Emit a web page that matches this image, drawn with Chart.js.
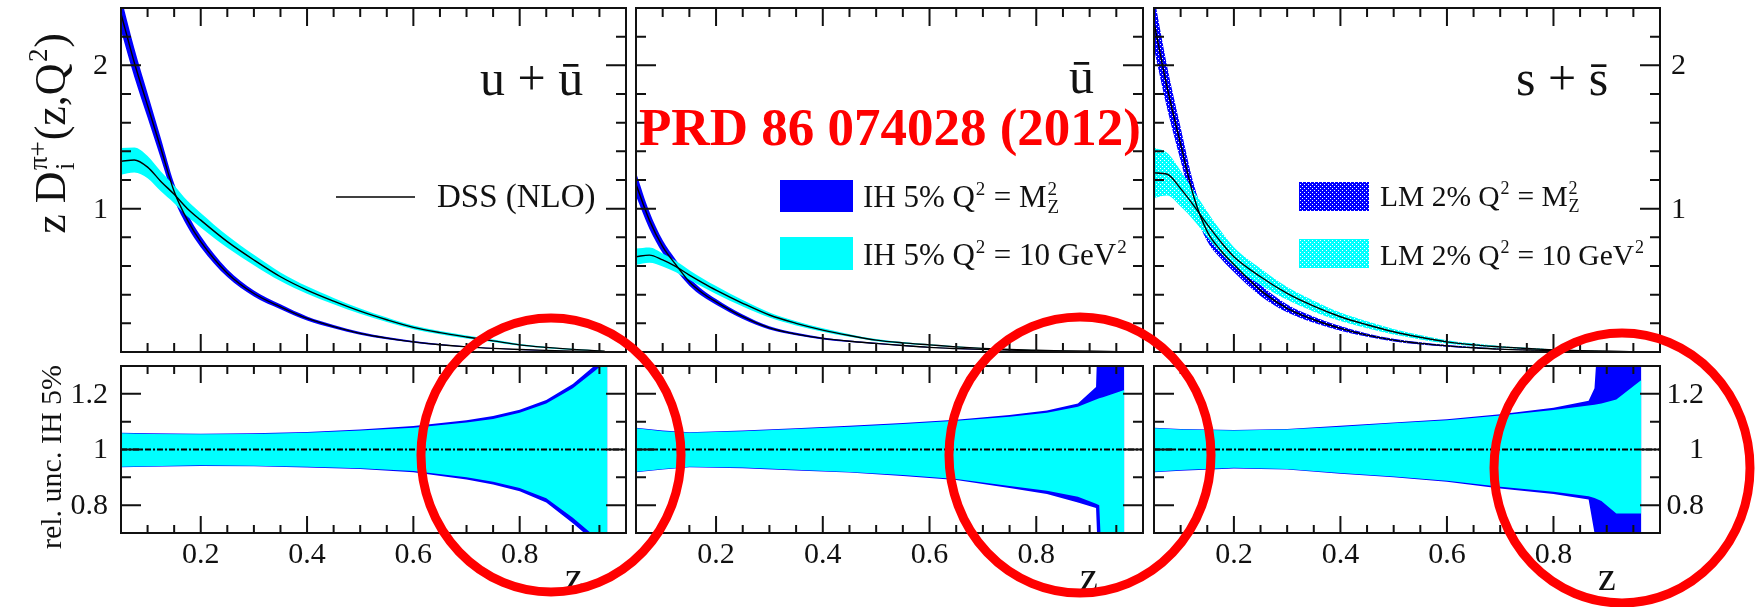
<!DOCTYPE html>
<html>
<head>
<meta charset="utf-8">
<script src="https://cdn.jsdelivr.net/npm/chart.js@4.4.1/dist/chart.umd.min.js"></script>
<style>
  html, body { margin: 0; padding: 0; background: #fff; }
  #wrap { position: relative; width: 1764px; height: 607px; overflow: hidden; background: #fff; }
  #wrap canvas { position: absolute; left: 0; top: 0; }
</style>
</head>
<body>
<div id="wrap"></div>
<script>
// ---------------------------------------------------------------------------
// Pion fragmentation functions z*D_i^{pi+}(z,Q^2) for i = u+ubar, ubar, s+sbar
// at Q^2 = M_Z^2 and Q^2 = 10 GeV^2, plus relative uncertainty bands.
// ---------------------------------------------------------------------------

// z nodes of the fragmentation-function curves
const zTop = [0.05, 0.075, 0.1, 0.125, 0.15, 0.175, 0.2, 0.25, 0.3, 0.35, 0.4, 0.45,
              0.5, 0.55, 0.6, 0.65, 0.7, 0.75, 0.8, 0.85, 0.9, 0.96];

// u + ubar
const uuMZ = [2.36, 2.02, 1.72, 1.42, 1.12, 0.92, 0.77, 0.55, 0.408, 0.315, 0.234, 0.177,
              0.13, 0.097, 0.071, 0.051, 0.036, 0.025, 0.017, 0.011, 0.006, 0.002];
const uu10 = [1.33, 1.34, 1.29, 1.19, 1.10, 1.0, 0.92, 0.77, 0.642, 0.525, 0.432, 0.355,
              0.285, 0.225, 0.172, 0.135, 0.105, 0.078, 0.05, 0.032, 0.018, 0.006];
// ubar
const ubMZ = [1.17, 0.92, 0.735, 0.607, 0.49, 0.41, 0.35, 0.246, 0.168, 0.125, 0.095, 0.075,
              0.06, 0.045, 0.032, 0.024, 0.018, 0.013, 0.009, 0.006, 0.004, 0.002];
const ub10 = [0.665, 0.676, 0.642, 0.595, 0.537, 0.483, 0.432, 0.34, 0.258, 0.2, 0.153, 0.115,
              0.083, 0.064, 0.05, 0.036, 0.025, 0.017, 0.012, 0.008, 0.005, 0.002];
// s + sbar
const ssMZ = [2.3, 1.84, 1.45, 1.08, 0.84, 0.71, 0.61, 0.43, 0.304, 0.225, 0.165, 0.118,
              0.083, 0.06, 0.043, 0.03, 0.02, 0.014, 0.01, 0.006, 0.004, 0.002];
const ss10 = [1.25, 1.24, 1.14, 1.02, 0.89, 0.77, 0.665, 0.525, 0.409, 0.32, 0.246, 0.19,
              0.141, 0.103, 0.071, 0.05, 0.036, 0.024, 0.015, 0.009, 0.005, 0.002];

// relative half-widths of the bands in the upper panels
const uuBandMZ = [0.05, 0.05, 0.05, 0.05, 0.05, 0.05, 0.05, 0.05, 0.052, 0.055, 0.06, 0.065,
                  0.07, 0.075, 0.08, 0.09, 0.1, 0.11, 0.13, 0.16, 0.22, 0.3];
const uuBand10 = [0.07, 0.065, 0.06, 0.058, 0.056, 0.055, 0.055, 0.055, 0.056, 0.058, 0.06, 0.063,
                  0.066, 0.07, 0.075, 0.085, 0.095, 0.11, 0.13, 0.16, 0.22, 0.3];
const ubBandMZ = [0.07, 0.065, 0.06, 0.058, 0.056, 0.056, 0.058, 0.062, 0.066, 0.07, 0.074, 0.078,
                  0.082, 0.086, 0.09, 0.095, 0.1, 0.11, 0.13, 0.16, 0.25, 0.3];
const ubBand10 = [0.085, 0.078, 0.07, 0.066, 0.062, 0.062, 0.064, 0.066, 0.07, 0.074, 0.078, 0.082,
                  0.086, 0.09, 0.094, 0.1, 0.11, 0.12, 0.14, 0.16, 0.2, 0.25];
const ssBandMZ = [0.08, 0.08, 0.08, 0.08, 0.08, 0.08, 0.085, 0.09, 0.09, 0.095, 0.1, 0.1,
                  0.11, 0.12, 0.13, 0.14, 0.15, 0.16, 0.18, 0.2, 0.25, 0.3];
const ssBand10 = [0.14, 0.12, 0.11, 0.1, 0.1, 0.1, 0.1, 0.11, 0.11, 0.12, 0.12, 0.13,
                  0.14, 0.15, 0.16, 0.17, 0.18, 0.2, 0.22, 0.25, 0.3, 0.3];

// relative uncertainty (IH 5%), lower panels: band edges at Q^2 = M_Z^2 and 10 GeV^2
const zRelUU   = [0.05, 0.1, 0.2, 0.3, 0.4, 0.5, 0.6, 0.7, 0.75, 0.8, 0.85, 0.9, 0.94, 0.965];
const uuRelMZup = [1.06, 1.058, 1.057, 1.058, 1.063, 1.072, 1.084, 1.105, 1.12, 1.143, 1.178, 1.235, 1.30, 1.34];
const uuRelMZlo = [0.936, 0.938, 0.941, 0.94, 0.935, 0.93, 0.918, 0.892, 0.874, 0.85, 0.81, 0.735, 0.67, 0.62];
const uuRel10up = [1.058, 1.056, 1.055, 1.056, 1.06, 1.068, 1.078, 1.097, 1.11, 1.132, 1.165, 1.22, 1.28, 1.32];
const uuRel10lo = [0.938, 0.94, 0.943, 0.942, 0.938, 0.933, 0.923, 0.9, 0.884, 0.862, 0.825, 0.755, 0.69, 0.64];

const zRelUB   = [0.05, 0.1, 0.15, 0.25, 0.35, 0.45, 0.55, 0.65, 0.75, 0.82, 0.878, 0.912, 0.918, 0.925, 0.965];
const ubRelMZup = [1.078, 1.068, 1.062, 1.068, 1.076, 1.085, 1.095, 1.107, 1.124, 1.14, 1.165, 1.225, 1.6, 1.6, 1.6];
const ubRelMZlo = [0.918, 0.928, 0.936, 0.933, 0.925, 0.917, 0.905, 0.89, 0.862, 0.84, 0.81, 0.79, 0.5, 0.5, 0.5];
const ubRel10up = [1.076, 1.066, 1.06, 1.066, 1.074, 1.082, 1.092, 1.103, 1.118, 1.132, 1.154, 1.18, 1.184, 1.188, 1.214];
const ubRel10lo = [0.92, 0.93, 0.938, 0.935, 0.927, 0.919, 0.908, 0.894, 0.869, 0.852, 0.83, 0.805, 0.80, 0.5, 0.5];

const zRelSS   = [0.05, 0.1, 0.2, 0.3, 0.4, 0.5, 0.6, 0.7, 0.8, 0.866, 0.877, 0.89, 0.918, 0.965];
const ssRelMZup = [1.078, 1.074, 1.07, 1.074, 1.085, 1.097, 1.109, 1.127, 1.15, 1.175, 1.22, 1.6, 1.6, 1.6];
const ssRelMZlo = [0.918, 0.924, 0.932, 0.928, 0.913, 0.9, 0.884, 0.86, 0.84, 0.82, 0.7, 0.5, 0.5, 0.5];
const ssRel10up = [1.076, 1.072, 1.068, 1.072, 1.082, 1.094, 1.105, 1.122, 1.142, 1.158, 1.161, 1.165, 1.18, 1.25];
const ssRel10lo = [0.92, 0.926, 0.934, 0.93, 0.916, 0.903, 0.888, 0.866, 0.848, 0.832, 0.826, 0.815, 0.77, 0.77];

// axes
const zRange = [0.05, 1.0];
const topRange = [0, 2.4];
const relRange = [0.7, 1.3];
const unity = 1;
const xTickLabels = [0.2, 0.4, 0.6, 0.8];
const xMinorTicks = [0.1, 0.15, 0.25, 0.3, 0.35, 0.45, 0.5, 0.55, 0.65, 0.7, 0.75, 0.85, 0.9, 0.95];
const topTickLabels = [1, 2];
const topMinorTicks = [0.2, 0.4, 0.6, 0.8, 1.2, 1.4, 1.6, 1.8, 2.2];
const relTickLabels = [0.8, 1, 1.2];
const relMinorTicks = [0.9, 1.1];

// ---------------------------------------------------------------------------
const W = 1764, H = 607;
const SERIF = '"Liberation Serif", "Times New Roman", serif';
const INK = '#111';
const BLUE = '#0000ff';
const CYAN = '#00ffff';
const wrap = document.getElementById('wrap');

// chart-area boxes of the six pads
const COLS = [[121, 626], [636, 1143], [1154, 1660]];
const ROW_TOP = [8, 352];
const ROW_REL = [366, 533];

function dotPattern(color) {
  const c = document.createElement('canvas');
  c.width = 4; c.height = 4;
  const g = c.getContext('2d');
  g.fillStyle = color; g.fillRect(0, 0, 4, 4);
  g.fillStyle = '#ffffff';
  g.fillRect(0, 0, 1, 1); g.fillRect(2, 2, 1, 1);
  return g.createPattern(c, 'repeat');
}
const BLUE_DOTS = dotPattern(BLUE);
const CYAN_DOTS = dotPattern(CYAN);

const pts = (z, v) => z.map((x, i) => ({ x, y: v[i] }));
const bandEdge = (z, c, rel, s) => z.map((x, i) => ({ x, y: c[i] * (1 + s * rel[i]) }));
const NONE = 'rgba(0,0,0,0)';

function topSets(cM, rM, c10, r10, fillM, fill10) {
  const common = { pointRadius: 0, cubicInterpolationMode: 'monotone' };
  return [
    { ...common, data: bandEdge(zTop, cM, rM, -1), borderColor: NONE, borderWidth: 0, fill: false, order: 3 },
    { ...common, data: bandEdge(zTop, cM, rM, 1), borderColor: NONE, borderWidth: 0, fill: '-1', backgroundColor: fillM, order: 3 },
    { ...common, data: bandEdge(zTop, c10, r10, -1), borderColor: NONE, borderWidth: 0, fill: false, order: 2 },
    { ...common, data: bandEdge(zTop, c10, r10, 1), borderColor: NONE, borderWidth: 0, fill: '-1', backgroundColor: fill10, order: 2 },
    { ...common, data: pts(zTop, cM), borderColor: '#000', borderWidth: 1.4, fill: false, order: 1 },
    { ...common, data: pts(zTop, c10), borderColor: '#000', borderWidth: 1.4, fill: false, order: 1 }
  ];
}

function relSets(z, mUp, mLo, tUp, tLo) {
  const common = { pointRadius: 0, tension: 0 };
  return [
    { ...common, data: pts(z, mLo), borderColor: NONE, borderWidth: 0, fill: false, order: 3 },
    { ...common, data: pts(z, mUp), borderColor: NONE, borderWidth: 0, fill: '-1', backgroundColor: BLUE, order: 3 },
    { ...common, data: pts(z, tLo), borderColor: NONE, borderWidth: 0, fill: false, order: 2 },
    { ...common, data: pts(z, tUp), borderColor: NONE, borderWidth: 0, fill: '-1', backgroundColor: CYAN, order: 2 },
    { ...common, data: zRange.map(x => ({ x, y: unity })), borderColor: '#000', borderWidth: 2,
      borderDash: [6, 2, 2, 2], fill: false, order: 1 }
  ];
}

// text with super/subscripts: parts are strings or {sup, sub}
function richWidth(ctx, parts, size) {
  let w = 0;
  for (const p of parts) {
    if (typeof p === 'string') { ctx.font = size + 'px ' + SERIF; w += ctx.measureText(p).width; }
    else {
      ctx.font = Math.round(size * 0.62) + 'px ' + SERIF;
      w += Math.max(p.sup ? ctx.measureText(p.sup).width : 0, p.sub ? ctx.measureText(p.sub).width : 0) + size * 0.05;
    }
  }
  return w;
}
function drawRich(ctx, x, y, parts, size, align) {
  const total = richWidth(ctx, parts, size);
  let cx = align === 'right' ? x - total : align === 'center' ? x - total / 2 : x;
  ctx.textAlign = 'left';
  ctx.textBaseline = 'alphabetic';
  for (const p of parts) {
    if (typeof p === 'string') {
      ctx.font = size + 'px ' + SERIF;
      ctx.fillText(p, cx, y);
      cx += ctx.measureText(p).width;
    } else {
      ctx.font = Math.round(size * 0.62) + 'px ' + SERIF;
      let w = 0;
      if (p.sup) { ctx.fillText(p.sup, cx + size * 0.03, y - size * 0.40); w = ctx.measureText(p.sup).width; }
      if (p.sub) { ctx.fillText(p.sub, cx + size * 0.03, y + size * 0.20); w = Math.max(w, ctx.measureText(p.sub).width); }
      cx += w + size * 0.05;
    }
  }
}

function label(ctx, text, x, y, size, align, baseline, weight) {
  ctx.font = (weight ? weight + ' ' : '') + size + 'px ' + SERIF;
  ctx.textAlign = align;
  ctx.textBaseline = baseline;
  ctx.fillText(text, x, y);
}

// frame, inward tick marks, tick labels and extra decorations of one pad
function padPlugin(cfg) {
  return {
    id: 'pad',
    afterDraw(chart) {
      const { ctx, chartArea: a } = chart;
      const xs = chart.scales.x, ys = chart.scales.y;
      ctx.save();
      ctx.strokeStyle = INK;
      ctx.lineWidth = 2;
      ctx.beginPath();
      const xt = (v, len) => {
        const px = xs.getPixelForValue(v);
        ctx.moveTo(px, a.top); ctx.lineTo(px, a.top + len);
        ctx.moveTo(px, a.bottom); ctx.lineTo(px, a.bottom - len);
      };
      const yt = (v, len) => {
        const py = ys.getPixelForValue(v);
        ctx.moveTo(a.left, py); ctx.lineTo(a.left + len, py);
        ctx.moveTo(a.right, py); ctx.lineTo(a.right - len, py);
      };
      xTickLabels.forEach(v => xt(v, cfg.xMaj));
      xMinorTicks.forEach(v => xt(v, cfg.xMin));
      cfg.yMajor.forEach(v => yt(v, 20));
      cfg.yMinor.forEach(v => yt(v, 10));
      ctx.stroke();
      ctx.lineWidth = 2;
      ctx.strokeRect(a.left, a.top, a.right - a.left, a.bottom - a.top);

      ctx.fillStyle = INK;
      if (cfg.yLabels) {
        cfg.yLabels.values.forEach(v => {
          label(ctx, String(v), cfg.yLabels.x, ys.getPixelForValue(v) + 1, 30, 'right', 'middle');
        });
      }
      if (cfg.xLabels) {
        xTickLabels.forEach(v => label(ctx, String(v), xs.getPixelForValue(v), 555, 30, 'center', 'middle'));
        label(ctx, 'z', a.left + 453, 590, 40, 'center', 'alphabetic');
      }
      if (cfg.extra) cfg.extra(ctx, chart);
      ctx.restore();
    }
  };
}

function makePad(col, row, range, datasets, cfg) {
  const cv = document.createElement('canvas');
  cv.width = W; cv.height = H;
  cv.style.width = W + 'px'; cv.style.height = H + 'px';
  wrap.appendChild(cv);
  return new Chart(cv, {
    type: 'line',
    data: { datasets },
    options: {
      responsive: false,
      animation: false,
      devicePixelRatio: 1,
      layout: { padding: { left: col[0], right: W - col[1], top: row[0], bottom: H - row[1] } },
      plugins: { legend: { display: false }, tooltip: { enabled: false } },
      scales: {
        x: { type: 'linear', min: zRange[0], max: zRange[1], display: false },
        y: { type: 'linear', min: range[0], max: range[1], display: false }
      },
      elements: { point: { radius: 0 } }
    },
    plugins: [padPlugin(cfg)]
  });
}

// ---- upper row -------------------------------------------------------------
makePad(COLS[0], ROW_TOP, topRange, topSets(uuMZ, uuBandMZ, uu10, uuBand10, BLUE, CYAN), {
  xMaj: 18, xMin: 9, yMajor: topTickLabels, yMinor: topMinorTicks,
  yLabels: { values: topTickLabels, x: 108 },
  extra(ctx) {
    // y-axis title
    ctx.save();
    ctx.translate(65, 33);
    ctx.rotate(-Math.PI / 2);
    drawRich(ctx, 0, 0, ['z D', { sub: 'i', sup: 'π+' }, '(z,Q', { sup: '2' }, ')'], 44, 'right');
    ctx.restore();
    label(ctx, 'u + ū', 480, 95, 50, 'left', 'alphabetic');
    // legend: DSS (NLO)
    ctx.strokeStyle = '#000'; ctx.lineWidth = 1.5;
    ctx.beginPath(); ctx.moveTo(336, 197); ctx.lineTo(415, 197); ctx.stroke();
    label(ctx, 'DSS (NLO)', 437, 207, 33, 'left', 'alphabetic');
  }
});

makePad(COLS[1], ROW_TOP, topRange, topSets(ubMZ, ubBandMZ, ub10, ubBand10, BLUE, CYAN), {
  xMaj: 18, xMin: 9, yMajor: topTickLabels, yMinor: topMinorTicks,
  extra(ctx) {
    label(ctx, 'ū', 1069, 93, 50, 'left', 'alphabetic');
    ctx.fillStyle = BLUE; ctx.fillRect(780, 180, 73, 32);
    ctx.fillStyle = CYAN; ctx.fillRect(780, 237, 73, 33);
    ctx.fillStyle = INK;
    drawRich(ctx, 863, 207, ['IH 5% Q', { sup: '2' }, ' = M', { sub: 'Z', sup: '2' }], 31, 'left');
    drawRich(ctx, 863, 265, ['IH 5% Q', { sup: '2' }, ' = 10 GeV', { sup: '2' }], 31, 'left');
  }
});

makePad(COLS[2], ROW_TOP, topRange, topSets(ssMZ, ssBandMZ, ss10, ssBand10, BLUE_DOTS, CYAN_DOTS), {
  xMaj: 18, xMin: 9, yMajor: topTickLabels, yMinor: topMinorTicks,
  yLabels: { values: topTickLabels, x: 1686 },
  extra(ctx) {
    label(ctx, 's + s\u0304', 1516, 95, 50, 'left', 'alphabetic');
    ctx.fillStyle = BLUE_DOTS; ctx.fillRect(1299, 182, 70, 29);
    ctx.fillStyle = CYAN_DOTS; ctx.fillRect(1299, 239, 70, 29);
    ctx.fillStyle = INK;
    drawRich(ctx, 1380, 206, ['LM 2% Q', { sup: '2' }, ' = M', { sub: 'Z', sup: '2' }], 29.5, 'left');
    drawRich(ctx, 1380, 265, ['LM 2% Q', { sup: '2' }, ' = 10 GeV', { sup: '2' }], 29.5, 'left');
  }
});

// ---- lower row: relative uncertainties ---------------------------------------
makePad(COLS[0], ROW_REL, relRange, relSets(zRelUU, uuRelMZup, uuRelMZlo, uuRel10up, uuRel10lo), {
  xMaj: 17, xMin: 8, yMajor: relTickLabels, yMinor: relMinorTicks,
  yLabels: { values: relTickLabels, x: 108 }, xLabels: true,
  extra(ctx) {
    ctx.save();
    ctx.translate(61, 457);
    ctx.rotate(-Math.PI / 2);
    label(ctx, 'rel. unc. IH 5%', 0, 0, 30, 'center', 'alphabetic');
    ctx.restore();
  }
});

makePad(COLS[1], ROW_REL, relRange, relSets(zRelUB, ubRelMZup, ubRelMZlo, ubRel10up, ubRel10lo), {
  xMaj: 17, xMin: 8, yMajor: relTickLabels, yMinor: relMinorTicks, xLabels: true
});

makePad(COLS[2], ROW_REL, relRange, relSets(zRelSS, ssRelMZup, ssRelMZlo, ssRel10up, ssRel10lo), {
  xMaj: 17, xMin: 8, yMajor: relTickLabels, yMinor: relMinorTicks,
  yLabels: { values: relTickLabels, x: 1704 }, xLabels: true,
  extra(ctx) {
    // reference stamp and highlighted high-z regions
    ctx.fillStyle = '#ff0000';
    label(ctx, 'PRD 86 074028 (2012)', 639, 145, 53, 'left', 'alphabetic', 'bold');
    ctx.strokeStyle = '#ff0000';
    ctx.lineWidth = 9;
    [[551, 455, 130, 137], [1080, 455, 131, 138], [1622, 468, 128, 135]].forEach(([cx, cy, rx, ry]) => {
      ctx.beginPath();
      ctx.ellipse(cx, cy, rx, ry, 0, 0, Math.PI * 2);
      ctx.stroke();
    });
  }
});
</script>
</body>
</html>
